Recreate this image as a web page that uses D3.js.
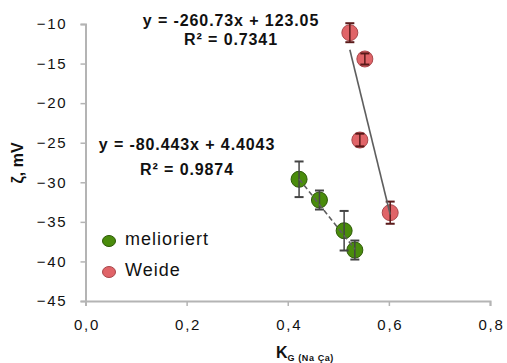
<!DOCTYPE html>
<html><head><meta charset="utf-8">
<script src="https://cdn.jsdelivr.net/npm/d3@7"></script>
<style>body{margin:0;background:#fff}svg{display:block}</style>
</head><body>
<script>
const xTicks = [0, 0.2, 0.4, 0.6, 0.8];
const yTicks = [-10, -15, -20, -25, -30, -35, -40, -45];
const seriesNames = ["melioriert", "Weide"];
const meliorX = [0.4224, 0.4627, 0.5115, 0.5327];
const meliorY = [-29.62, -32.24, -36.12, -38.56];
const meliorErr = [2.25, 1.2, 2.5, 1.2];
const weideX = [0.5228, 0.5525, 0.5426, 0.6026];
const weideY = [-11.1, -14.42, -24.66, -33.84];
const weideErr = [1.2, 0.7, 0.8, 1.4];
const fitM = {slope: -80.443, icept: 4.4043, eq: "y = -80.443x + 4.4043", r2: "R² = 0.9874"};
const fitW = {slope: -260.73, icept: 123.05, eq: "y = -260.73x + 123.05", r2: "R² = 0.7341"};

const W = 507, H = 363;
const svg = d3.select("body").append("svg").attr("width", W).attr("height", H)
  .style("font-family", "Liberation Sans, Arial, sans-serif");
const x = d3.scaleLinear().domain([0, 0.8]).range([85.5, 490]);
const y = d3.scaleLinear().domain([-45, -10]).range([301, 24]);
const fmt = d => d3.format(".1f")(d).replace(".", ",");

const gx = svg.append("g").attr("transform", `translate(0,${y(-45)})`)
  .call(d3.axisBottom(x).tickValues(xTicks).tickFormat(fmt).tickSize(5).tickPadding(13));
const gy = svg.append("g").attr("transform", `translate(${x(0)},0)`)
  .call(d3.axisLeft(y).tickValues(yTicks).tickSize(5).tickPadding(13));
[gx, gy].forEach(g => {
  g.select(".domain").attr("stroke", "#b4b4b4").attr("stroke-width", 2);
  g.selectAll(".tick line").attr("stroke", "#b4b4b4").attr("stroke-width", 1.5);
  g.selectAll("text").attr("fill", "#111").style("font-size", "15px")
   .style("letter-spacing", "1.8px")
   .style("font-family", "Liberation Sans, Arial, sans-serif");
});
gx.selectAll("text").attr("dx", 1);

// axis titles
svg.append("text").attr("transform", "translate(23,163) rotate(-90)")
  .attr("text-anchor", "middle").style("font-size", "16px").style("font-weight", "bold")
  .attr("fill", "#111").text("ζ, mV");
const xt = svg.append("text").attr("x", 276).attr("y", 358).attr("fill", "#111")
  .style("font-size", "16px").style("font-weight", "bold");
xt.append("tspan").text("K");
xt.append("tspan").attr("dy", 3).style("font-size", "9px").style("letter-spacing", "0.6px").text("G (Na Ça)");

// trend lines
function trend(xs, f, dash) {
  const x0 = d3.min(xs), x1 = d3.max(xs);
  svg.append("line").attr("x1", x(x0)).attr("y1", y(f.slope * x0 + f.icept))
    .attr("x2", x(x1)).attr("y2", y(f.slope * x1 + f.icept))
    .attr("stroke", "#5e5e5e").attr("stroke-width", 1.6).attr("stroke-dasharray", dash);
}

function series(xs, ys, es, fill, stroke, barCol) {
  const g = svg.append("g");
  xs.forEach((xv, i) => {
    g.append("circle").attr("cx", x(xv)).attr("cy", y(ys[i])).attr("r", 8)
      .attr("fill", fill).attr("stroke", stroke).attr("stroke-width", 1);
  });
  xs.forEach((xv, i) => {
    const cx = x(xv), t = y(ys[i] + es[i]), b = y(ys[i] - es[i]);
    g.append("line").attr("x1", cx).attr("x2", cx).attr("y1", t).attr("y2", b)
      .attr("stroke", barCol).attr("stroke-width", 1.5);
    [t, b].forEach(v => g.append("line").attr("x1", cx - 4.5).attr("x2", cx + 4.5)
      .attr("y1", v).attr("y2", v).attr("stroke", barCol).attr("stroke-width", 2));
  });
}
series(weideX, weideY, weideErr, "#e06468", "#a8484c", "#5a1a1a");
series(meliorX, meliorY, meliorErr, "#4a8c0c", "#2e5a08", "#444");
trend(meliorX, fitM, "5,3");
trend(weideX, fitW, "none");

// equation labels
function eq(f, cx, y1, gap) {
  [f.eq, f.r2].forEach((t, i) => svg.append("text").attr("x", cx).attr("y", y1 + i * gap)
    .attr("text-anchor", "middle").style("font-size", "16px").style("font-weight", "bold")
    .style("letter-spacing", "0.9px").attr("fill", "#111").text(t));
}
eq(fitW, 231, 26, 19);
eq(fitM, 187, 150, 25);

// legend
const legCols = ["#4a8c0c", "#e06468"], legStroke = ["#2e5a08", "#a8484c"];
seriesNames.forEach((n, i) => {
  const ly = 241 + i * 31;
  svg.append("ellipse").attr("cx", 109).attr("cy", ly).attr("rx", 6.5).attr("ry", 5.5)
    .attr("fill", legCols[i]).attr("stroke", legStroke[i]);
  svg.append("text").attr("x", 125).attr("y", ly + 4).style("font-size", "18px")
    .style("letter-spacing", "1px").attr("fill", "#111").text(n);
});
</script>
</body></html>
